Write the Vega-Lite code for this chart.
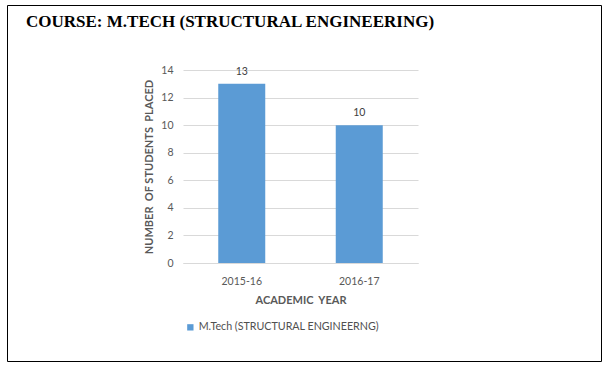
{
  "$schema": "https://vega.github.io/schema/vega-lite/v6.json",
  "width": 594,
  "height": 356,
  "autosize": {"type": "none"},
  "padding": {"left": 7, "top": 5, "right": 6, "bottom": 5},
  "background": "white",
  "title": {
    "text": "COURSE: M.TECH (STRUCTURAL ENGINEERING)",
    "anchor": "start",
    "frame": "group",
    "font": "Liberation Serif",
    "fontSize": 17,
    "fontWeight": "bold",
    "color": "#000000",
    "offset": 0,
    "dx": 19,
    "dy": 39,
    "baseline": "alphabetic"
  },
  "config": {
    "view": {"stroke": "#000000", "strokeWidth": 1},
    "axis": {
      "labelFont": "Lato",
      "titleFont": "Lato",
      "labelColor": "#595959",
      "titleColor": "#595959",
      "labelFontSize": 10.5,
      "titleFontSize": 11,
      "titleFontWeight": "bold"
    }
  },
  "data": {
    "values": [
      {"year": "2015-16", "placed": 13, "series": "M.Tech (STRUCTURAL ENGINEERNG)"},
      {"year": "2016-17", "placed": 10, "series": "M.Tech (STRUCTURAL ENGINEERNG)"}
    ]
  },
  "encoding": {
    "x": {
      "field": "year",
      "type": "nominal",
      "title": "ACADEMIC\u00a0 YEAR",
      "scale": {"range": [176, 411], "paddingInner": 0.6, "paddingOuter": 0.3},
      "axis": {
        "orient": "bottom",
        "offset": -98,
        "ticks": false,
        "domain": true,
        "domainColor": "#d9d9d9",
        "grid": false,
        "labelAngle": 0,
        "labelPadding": 13,
        "titlePadding": 8
      }
    },
    "y": {
      "field": "placed",
      "type": "quantitative",
      "title": "NUMBER\u00a0 OF STUDENTS\u00a0 PLACED",
      "scale": {"domain": [0, 14], "range": [258, 65], "nice": false},
      "axis": {
        "orient": "left",
        "offset": -176,
        "values": [0, 2, 4, 6, 8, 10, 12, 14],
        "ticks": false,
        "domain": false,
        "grid": true,
        "gridColor": "#d9d9d9",
        "labelPadding": 10,
        "titlePadding": 6
      }
    }
  },
  "layer": [
    {
      "mark": {"type": "bar"},
      "encoding": {
        "color": {
          "field": "series",
          "type": "nominal",
          "scale": {"range": ["#5b9bd5"]},
          "legend": {
            "orient": "none",
            "legendX": 178,
            "legendY": 317,
            "title": null,
            "padding": 0,
            "symbolType": "square",
            "symbolSize": 40,
            "symbolStrokeWidth": 0,
            "labelOffset": 3,
            "labelLimit": 400,
            "labelFont": "Lato",
            "labelFontSize": 10.7,
            "labelColor": "#505050"
          }
        }
      }
    },
    {
      "mark": {"type": "text", "dy": -12, "font": "Lato", "fontSize": 10.5, "color": "#404040"},
      "encoding": {"text": {"field": "placed", "type": "quantitative"}}
    }
  ]
}
